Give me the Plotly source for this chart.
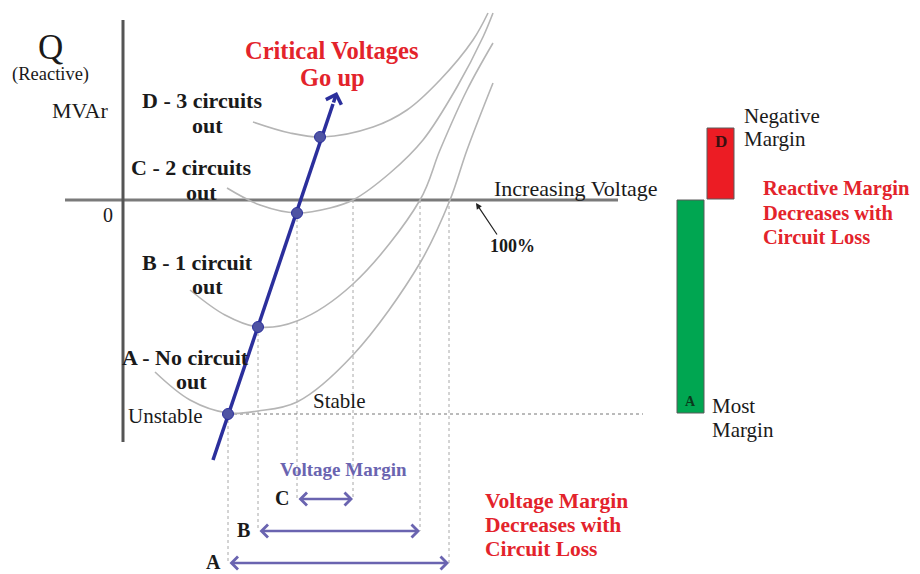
import plotly.graph_objects as go

# Canvas coordinates (x right, y down)
# Q-V curves for each outage case (points on the curve, smoothed with a spline)
curve_a_x = [155, 190, 228, 258, 297, 353, 420, 450, 467, 493]
curve_a_y = [372, 400, 413, 411, 402, 355, 263, 200, 150, 83]
curve_b_x = [190, 225, 258, 297, 353, 420, 440, 467, 493]
curve_b_y = [290, 315, 327, 321, 284, 200, 150, 90, 43]
curve_c_x = [227, 260, 297, 330, 353, 390, 423, 457, 483, 493]
curve_c_y = [188, 205, 213, 208, 200, 173, 140, 87, 37, 13]
curve_d_x = [253, 290, 322, 373, 407, 440, 473, 488]
curve_d_y = [122, 133, 137, 127, 110, 80, 40, 13]

# critical (nose) points of each curve, A..D
critical_x = [228, 258, 297, 320]
critical_y = [414, 327, 213, 137]
crit_line_x = [213, 333]
crit_line_y = [460, 104]

# voltage margin spans, A..C
margin_labels = ["A", "B", "C"]
margin_left = [228, 258, 297]
margin_right = [449, 420, 353]
margin_top_left = [414, 327, 213]
margin_y = [563, 531, 499]

# reactive margin bars (A = most margin, D = negative margin)
bar_labels = ["A", "D"]
bar_x = [690.5, 720.5]
bar_base = [413, 199]
bar_len = [-213, -71]
bar_colors = ["#00a651", "#ec1c24"]

SERIF = "Liberation Serif"
RED = "#e3232b"
PURPLE = "#6a64b0"
BLUE = "#2b2f9c"
PAGE_PAD = 8  # default body margin of the html page

fig = go.Figure()

# reactive margin bars
fig.add_trace(go.Bar(
    x=bar_x, y=bar_len, base=bar_base, width=27,
    marker=dict(color=bar_colors, line=dict(color="#5a5a5a", width=1)),
    hoverinfo="skip",
))

# axes of the sketch
fig.add_trace(go.Scatter(x=[65, 618], y=[200, 200], mode="lines",
                         line=dict(color="#7a7a7a", width=3), hoverinfo="skip"))
fig.add_trace(go.Scatter(x=[123, 123], y=[20, 442], mode="lines",
                         line=dict(color="#555555", width=3), hoverinfo="skip"))

# dotted guide lines
gx, gy = [], []
for xl, xr, yt, ym in zip(margin_left, margin_right, margin_top_left, margin_y):
    gx += [xl, xl, None, xr, xr, None]
    gy += [yt, ym, None, 200, ym, None]
fig.add_trace(go.Scatter(x=gx, y=gy, mode="lines",
                         line=dict(color="#a8a8a8", width=1, dash="dot"), hoverinfo="skip"))
fig.add_trace(go.Scatter(x=[critical_x[0], 643], y=[critical_y[0], critical_y[0]], mode="lines",
                         line=dict(color="#777777", width=1, dash="dot"), hoverinfo="skip"))

# Q-V curves
for cx, cy in [(curve_a_x, curve_a_y), (curve_b_x, curve_b_y),
               (curve_c_x, curve_c_y), (curve_d_x, curve_d_y)]:
    fig.add_trace(go.Scatter(x=cx, y=cy, mode="lines",
                             line=dict(color="#b5b5b5", width=1.6, shape="spline", smoothing=1),
                             hoverinfo="skip"))

# critical voltage line + points
fig.add_trace(go.Scatter(x=crit_line_x, y=crit_line_y, mode="lines",
                         line=dict(color=BLUE, width=3.5), hoverinfo="skip"))
fig.add_trace(go.Scatter(x=critical_x, y=critical_y, mode="markers",
                         marker=dict(size=11, color="#4f54a3", line=dict(color=BLUE, width=1)),
                         hoverinfo="skip"))

ann = []
# arrow head of critical voltage line
ann.append(dict(x=337, y=92, ax=crit_line_x[1], ay=crit_line_y[1], axref="x", ayref="y",
                xref="x", yref="y", text="", showarrow=True, arrowhead=4, arrowsize=0.9,
                arrowwidth=3.5, arrowcolor=BLUE, standoff=0))

# voltage margin double arrows
for lab, xl, xr, ym in zip(margin_labels, margin_left, margin_right, margin_y):
    ann.append(dict(x=xr, y=ym, ax=xl, ay=ym, axref="x", ayref="y", xref="x", yref="y",
                    text="", showarrow=True, arrowhead=4, startarrowhead=4, arrowside="end+start",
                    arrowsize=1, startarrowsize=1, arrowwidth=2.5, arrowcolor=PURPLE))
    ann.append(dict(x=xl - 15, y=ym - 1, xref="x", yref="y", text="<b>" + lab + "</b>",
                    showarrow=False, font=dict(family=SERIF, size=20, color="#1a1a1a"),
                    xanchor="center", yanchor="middle", borderpad=0))

# 100% pointer
ann.append(dict(x=476, y=203, ax=498, ay=236, axref="x", ayref="y", xref="x", yref="y",
                text="", showarrow=True, arrowhead=2, arrowsize=1, arrowwidth=1.2,
                arrowcolor="#222222"))


def txt(x, y, s, size=22, color="#1a1a1a", bold=False, anchor="center"):
    if bold:
        s = "<b>" + s + "</b>"
    ann.append(dict(x=x, y=y, xref="x", yref="y", text=s, showarrow=False,
                    xanchor=anchor, yanchor="middle",
                    font=dict(family=SERIF, size=size, color=color)))


txt(50, 47, "Q", size=35)
txt(50, 74, "(Reactive)", size=18.5)
txt(80, 110, "MVAr", size=22)
txt(108, 215, "0", size=20)

txt(332, 50, "Critical Voltages", size=24.5, color=RED, bold=True)
txt(332, 77, "Go up", size=24.5, color=RED, bold=True)

txt(202, 100, "D - 3 circuits", bold=True)
txt(207, 125, "out", bold=True)
txt(191, 167, "C - 2 circuits", bold=True)
txt(201, 192, "out", bold=True)
txt(197, 262, "B - 1 circuit", bold=True)
txt(207, 286, "out", bold=True)
txt(185, 357, "A - No circuit", bold=True)
txt(191, 381, "out", bold=True)

txt(126, 416, "Unstable", size=21, anchor="left")
txt(311, 401, "Stable", size=21, anchor="left")
txt(492, 188, "Increasing Voltage", size=22, anchor="left")
txt(512, 246, "100%", size=18, bold=True)

txt(343, 469, "Voltage Margin", size=19, color=PURPLE, bold=True)
txt(483, 501, "Voltage Margin", size=21.5, color=RED, bold=True, anchor="left")
txt(483, 525, "Decreases with", size=21.5, color=RED, bold=True, anchor="left")
txt(483, 549, "Circuit Loss", size=21.5, color=RED, bold=True, anchor="left")

txt(761, 188, "Reactive Margin", size=20.5, color=RED, bold=True, anchor="left")
txt(761, 213, "Decreases with", size=20.5, color=RED, bold=True, anchor="left")
txt(761, 237, "Circuit Loss", size=20.5, color=RED, bold=True, anchor="left")

txt(bar_x[1], 141, bar_labels[1], size=17, color="#3a1010", bold=True)
txt(bar_x[0], 401, bar_labels[0], size=14, color="#0b3a1c", bold=True)
txt(742, 116, "Negative", size=21, anchor="left")
txt(742, 139, "Margin", size=21, anchor="left")
txt(710, 406, "Most", size=21, anchor="left")
txt(710, 430, "Margin", size=21, anchor="left")

fig.update_layout(
    width=920 - PAGE_PAD, height=574 - PAGE_PAD,
    margin=dict(l=0, r=0, t=0, b=0),
    paper_bgcolor="white", plot_bgcolor="white",
    showlegend=False, barmode="overlay",
    xaxis=dict(range=[PAGE_PAD, 920], visible=False, fixedrange=True),
    yaxis=dict(range=[574, PAGE_PAD], visible=False, fixedrange=True),
    annotations=ann,
)

fig.write_html("out.html")
